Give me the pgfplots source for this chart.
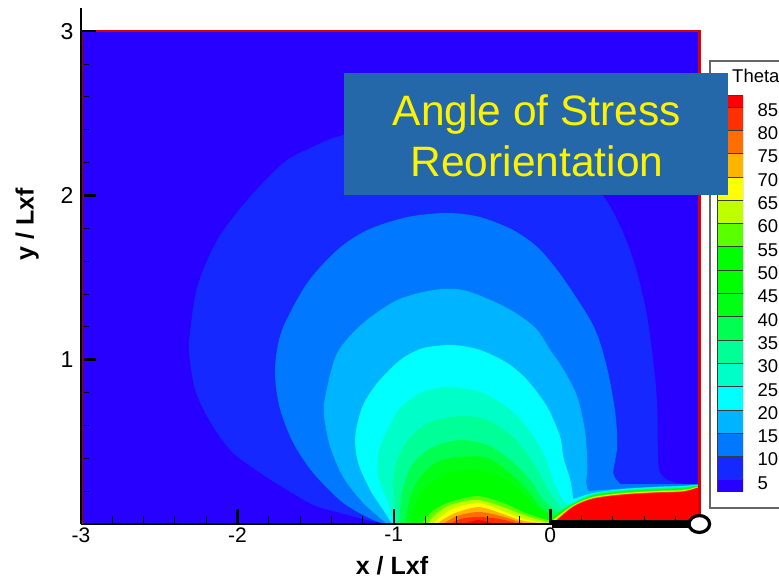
\documentclass[border=0pt]{standalone}
\usepackage{fontspec}
\setmainfont{Liberation Sans}
\usepackage{pgfplots}
\pgfplotsset{compat=1.18}
\definecolor{c05}{HTML}{2800FF}
\definecolor{c10}{HTML}{1428FF}
\definecolor{c15}{HTML}{0078FF}
\definecolor{c20}{HTML}{00B4FF}
\definecolor{c25}{HTML}{00FFFF}
\definecolor{c30}{HTML}{00FFC8}
\definecolor{c35}{HTML}{00FF96}
\definecolor{c40}{HTML}{00FF50}
\definecolor{c45}{HTML}{00FF14}
\definecolor{c50}{HTML}{00FF00}
\definecolor{c60}{HTML}{5AFF00}
\definecolor{c65}{HTML}{BFFF00}
\definecolor{c70}{HTML}{FFFF00}
\definecolor{c75}{HTML}{FFB400}
\definecolor{c80}{HTML}{FF6E00}
\definecolor{c85}{HTML}{FF3000}
\definecolor{c90}{HTML}{FF0000}
\definecolor{boxblue}{HTML}{2468AA}
\definecolor{bandline}{HTML}{3A3A3A}
\begin{document}
\begin{tikzpicture}
\path[use as bounding box] (0,0) rectangle (779pt,580pt);
% filled contour levels, clipped to the domain
\begin{axis}[
  at={(81pt,56pt)}, anchor=south west,
  scale only axis, width=618.3pt, height=515.9pt,
  xmin=-3, xmax=0.953, ymin=0, ymax=3.14,
  hide axis, clip=true,
]
\addplot[fill=c05,draw=none] coordinates {(-3,0)(0.953,0)(0.953,3)(-3,3)} --cycle;
\addplot[fill=c10,draw=none,smooth,tension=0.5] coordinates {(-1.042,0)(-1.170,.024)(-1.343,.067)(-1.515,.116)(-1.682,.207)(-1.854,.310)(-2.027,.432)(-2.129,.554)(-2.206,.676)(-2.270,.816)(-2.302,.980)(-2.308,1.120)(-2.257,1.442)(-2.129,1.728)(-1.937,1.972)(-1.707,2.197)(-1.535,2.288)(-1.324,2.367)(-.831,2.459)(-.320,2.428)(.064,2.276)(.339,1.996)(.467,1.771)(.556,1.528)(.620,1.260)(.665,.937)(.684,.712)(.691,.371)(.723,.286)(.812,.250)(.953,.243)(.953,.243)(.953,0)(.953,0)} --cycle;
\addplot[fill=c15,draw=none,smooth,tension=0.5] coordinates {(-1.042,0)(-1.132,.024)(-1.324,.128)(-1.515,.310)(-1.643,.493)(-1.726,.694)(-1.758,.876)(-1.752,1.029)(-1.707,1.199)(-1.554,1.467)(-1.362,1.668)(-1.170,1.789)(-.914,1.868)(-.659,1.893)(-.448,1.868)(-.237,1.789)(-.083,1.686)(.045,1.546)(.147,1.406)(.256,1.242)(.313,1.120)(.371,.919)(.416,.676)(.428,.469)(.403,.310)(.448,.243)(.448,.243)(.953,.242)(.953,.242)(.953,0)(.953,0)} --cycle;
\addplot[fill=c20,draw=none,smooth,tension=0.5] coordinates {(-1.042,0)(-1.196,.128)(-1.324,.286)(-1.407,.469)(-1.445,.651)(-1.439,.773)(-1.362,1.041)(-1.196,1.223)(-.978,1.363)(-.748,1.424)(-.556,1.424)(-.339,1.345)(-.192,1.266)(-.083,1.181)(0,1.059)(.083,.943)(.173,.773)(.224,.554)(.237,.347)(.230,.250)(.243,.201)(.243,.201)(.467,.216)(.684,.228)(.850,.234)(.953,.241)(.953,.241)(.953,0)(.953,0)} --cycle;
\addplot[fill=c25,draw=none,smooth,tension=0.5] coordinates {(-1.010,0)(-1.068,.085)(-1.151,.207)(-1.228,.371)(-1.247,.529)(-1.202,.712)(-1.106,.858)(-.959,.998)(-.812,1.071)(-.620,1.089)(-.448,1.059)(-.275,.980)(-.147,.876)(-.019,.712)(.064,.529)(.083,.408)(.128,.268)(.147,.152)(.147,.152)(.275,.189)(.467,.213)(.684,.225)(.850,.231)(.953,.240)(.953,.240)(.953,0)(.953,0)} --cycle;
\addplot[fill=c30,draw=none,smooth,tension=0.5] coordinates {(-.985,0)(-1.004,.024)(-1.042,.146)(-1.100,.286)(-1.100,.432)(-1.042,.572)(-.959,.706)(-.831,.797)(-.659,.834)(-.448,.803)(-.275,.712)(-.147,.590)(-.045,.432)(.019,.268)(.064,.176)(.102,.116)(.102,.116)(.147,.131)(.275,.185)(.467,.209)(.684,.222)(.850,.228)(.953,.239)(.953,.239)(.953,0)(.953,0)} --cycle;
\addplot[fill=c35,draw=none,smooth,tension=0.5] coordinates {(-.985,0)(-.991,.085)(-1.004,.250)(-.978,.390)(-.895,.529)(-.767,.621)(-.575,.657)(-.403,.633)(-.237,.529)(-.109,.371)(0,.189)(.070,.091)(.070,.091)(.147,.128)(.275,.181)(.467,.206)(.684,.218)(.850,.224)(.953,.237)(.953,.237)(.953,0)(.953,0)} --cycle;
\addplot[fill=c40,draw=none,smooth,tension=0.5] coordinates {(-.965,0)(-.959,.103)(-.940,.225)(-.876,.371)(-.748,.469)(-.575,.511)(-.403,.481)(-.256,.390)(-.128,.268)(-.045,.146)(.045,.067)(.045,.067)(.147,.125)(.275,.178)(.467,.202)(.684,.214)(.850,.220)(.953,.235)(.953,.235)(.953,0)(.953,0)} --cycle;
\addplot[fill=c45,draw=none,smooth,tension=0.5] coordinates {(-.927,0)(-.895,.164)(-.831,.286)(-.723,.377)(-.575,.408)(-.403,.402)(-.256,.310)(-.147,.207)(-.064,.103)(.026,.049)(.026,.049)(.147,.122)(.275,.174)(.467,.198)(.684,.211)(.850,.217)(.953,.233)(.953,.233)(.953,0)(.953,0)} --cycle;
\addplot[fill=c50,draw=none,smooth,tension=0.5] coordinates {(-.889,0)(-.857,.128)(-.780,.231)(-.671,.304)(-.512,.329)(-.352,.304)(-.224,.231)(-.115,.128)(.013,.037)(.013,.037)(.147,.119)(.275,.170)(.467,.195)(.684,.207)(.850,.213)(.953,.231)(.953,.231)(.953,0)(.953,0)} --cycle;
\addplot[fill=c60,draw=none,smooth,tension=0.5] coordinates {(-.818,0)(-.767,.067)(-.659,.128)(-.467,.170)(-.301,.128)(-.173,.073)(-.064,.037)(.006,.018)(.006,.018)(.147,.116)(.275,.167)(.467,.191)(.684,.203)(.850,.209)(.953,.229)(.953,.229)(.953,0)(.953,0)} --cycle;
\addplot[fill=c65,draw=none,smooth,tension=0.5] coordinates {(-.786,0)(-.735,.055)(-.639,.116)(-.467,.146)(-.301,.103)(-.173,.055)(-.019,.012)(.006,.015)(.006,.015)(.147,.113)(.275,.163)(.467,.187)(.684,.200)(.850,.206)(.953,.228)(.953,.228)(.953,0)(.953,0)} --cycle;
\addplot[fill=c70,draw=none,smooth,tension=0.5] coordinates {(-.748,0)(-.723,.024)(-.627,.091)(-.460,.128)(-.320,.085)(-.192,.037)(-.045,.006)(.006,.012)(.006,.012)(.147,.111)(.275,.161)(.467,.186)(.684,.198)(.850,.204)(.953,.226)(.953,.226)(.953,0)(.953,0)} --cycle;
\addplot[fill=c75,draw=none,smooth,tension=0.5] coordinates {(-.723,0)(-.691,.024)(-.607,.067)(-.460,.103)(-.320,.067)(-.192,.024)(-.064,.006)(.013,.009)(.013,.009)(.147,.110)(.275,.159)(.467,.183)(.684,.195)(.850,.201)(.953,.225)(.953,.225)(.953,0)(.953,0)} --cycle;
\addplot[fill=c80,draw=none,smooth,tension=0.5] coordinates {(-.684,0)(-.595,.049)(-.460,.073)(-.320,.049)(-.173,.006)(-.173,.006)(.019,.006)(.019,.006)(.147,.107)(.275,.156)(.467,.181)(.684,.193)(.850,.199)(.953,.225)(.953,.225)(.953,0)(.953,0)} --cycle;
\addplot[fill=c85,draw=none,smooth,tension=0.5] coordinates {(-.639,0)(-.575,.030)(-.460,.043)(-.320,.030)(-.211,.003)(-.211,.003)(.019,.003)(.019,.003)(.147,.105)(.275,.155)(.467,.179)(.684,.191)(.850,.197)(.953,.223)(.953,.223)(.953,0)(.953,0)} --cycle;
\addplot[fill=c90,draw=none,smooth,tension=0.5] coordinates {(-.556,0)(-.460,.024)(-.364,.003)(-.364,.003)(.019,.001)(.019,.001)(.147,.103)(.275,.152)(.467,.176)(.684,.189)(.850,.195)(.953,.222)(.953,.222)(.953,0)(.953,0)} --cycle;
\end{axis}
% axes, domain boundary, crack and tip
\begin{axis}[
  at={(81pt,56pt)}, anchor=south west,
  scale only axis, width=618.3pt, height=515.9pt,
  xmin=-3, xmax=0.953, ymin=0, ymax=3.14,
  axis lines=left, axis line style={-, line width=2.2pt, black},
  clip=false,
  xtick={-3,-2,-1,0}, xticklabels={-3,-2,-1,0},
  ytick={1,2,3}, yticklabels={1,2,3},
  minor xtick={-2.8,-2.6,-2.4,-2.2,-1.8,-1.6,-1.4,-1.2,-0.8,-0.6,-0.4,-0.2,0.2,0.4,0.6,0.8},
  minor ytick={0.2,0.4,0.6,0.8,1.2,1.4,1.6,1.8,2.2,2.4,2.6,2.8},
  tick align=inside,
  major tick length=15pt, minor tick length=8pt,
  major tick style={line width=2.6pt, black},
  minor tick style={line width=0.9pt, black},
  x tick label style={font=\fontsize{21}{21}\selectfont},
  y tick label style={font=\fontsize{23}{23}\selectfont, xshift=-4pt},
  xlabel={\bfseries x / Lxf}, ylabel={\bfseries y / Lxf},
  label style={font=\fontsize{25}{25}\selectfont},
  x label style={at={(axis description cs:0.503,-0.081)}, anchor=center},
  y label style={at={(axis description cs:-0.087,0.581)}, anchor=center, rotate=0},
]
\addplot[color=black!15!red, line width=2.8pt] coordinates {(-2.905,3)(0.953,3)(0.953,0)};
\addplot[color={rgb:red,5;blue,5;black,2}, line width=2.2pt] coordinates {(-2.985,0)(-2.985,2.98)};
\addplot[black, line width=7.5pt] coordinates {(0.013,0)(0.92,0)};
\addplot[only marks, mark=*, mark size=10.3pt, mark options={fill=white, draw=black, line width=3.2pt, yscale=0.82}] coordinates {(0.953,0)};
\end{axis}
% legend frame
\draw[color=black!60, line width=1.2pt, fill=white] (785pt,519pt) -- (710pt,519pt) -- (710pt,72pt) -- (785pt,72pt);
\begin{axis}[
  at={(717pt,88pt)}, anchor=south west,
  scale only axis, width=26pt, height=397pt,
  xmin=0, xmax=1, ymin=2.4, ymax=87.6,
  axis x line=none, axis y line=right, axis line style={draw=none},
  ytick={5,10,...,85}, major tick length=0pt,
  tick label style={font=\fontsize{18.5}{18.5}\selectfont},
  yticklabels={5,10,15,20,25,30,35,40,45,50,55,60,65,70,75,80,85},
  y tick label style={xshift=11pt, yshift=-3pt, anchor=west},
]
\addplot[fill=c05,draw=bandline,line width=.9pt] coordinates {(0,2.4)(1,2.4)(1,5)(0,5)} --cycle;
\addplot[fill=c10,draw=bandline,line width=.9pt] coordinates {(0,5)(1,5)(1,10)(0,10)} --cycle;
\addplot[fill=c15,draw=bandline,line width=.9pt] coordinates {(0,10)(1,10)(1,15)(0,15)} --cycle;
\addplot[fill=c20,draw=bandline,line width=.9pt] coordinates {(0,15)(1,15)(1,20)(0,20)} --cycle;
\addplot[fill=c25,draw=bandline,line width=.9pt] coordinates {(0,20)(1,20)(1,25)(0,25)} --cycle;
\addplot[fill=c30,draw=bandline,line width=.9pt] coordinates {(0,25)(1,25)(1,30)(0,30)} --cycle;
\addplot[fill=c35,draw=bandline,line width=.9pt] coordinates {(0,30)(1,30)(1,35)(0,35)} --cycle;
\addplot[fill=c40,draw=bandline,line width=.9pt] coordinates {(0,35)(1,35)(1,40)(0,40)} --cycle;
\addplot[fill=c45,draw=bandline,line width=.9pt] coordinates {(0,40)(1,40)(1,45)(0,45)} --cycle;
\addplot[fill=c50,draw=bandline,line width=.9pt] coordinates {(0,45)(1,45)(1,50)(0,50)} --cycle;
\addplot[fill=c50,draw=bandline,line width=.9pt] coordinates {(0,50)(1,50)(1,55)(0,55)} --cycle;
\addplot[fill=c60,draw=bandline,line width=.9pt] coordinates {(0,55)(1,55)(1,60)(0,60)} --cycle;
\addplot[fill=c65,draw=bandline,line width=.9pt] coordinates {(0,60)(1,60)(1,65)(0,65)} --cycle;
\addplot[fill=c70,draw=bandline,line width=.9pt] coordinates {(0,65)(1,65)(1,70)(0,70)} --cycle;
\addplot[fill=c75,draw=bandline,line width=.9pt] coordinates {(0,70)(1,70)(1,75)(0,75)} --cycle;
\addplot[fill=c80,draw=bandline,line width=.9pt] coordinates {(0,75)(1,75)(1,80)(0,80)} --cycle;
\addplot[fill=c85,draw=bandline,line width=.9pt] coordinates {(0,80)(1,80)(1,85)(0,85)} --cycle;
\addplot[fill=c90,draw=bandline,line width=.9pt] coordinates {(0,85)(1,85)(1,87.6)(0,87.6)} --cycle;
\end{axis}
\node[anchor=west, inner sep=0pt, font=\fontsize{18.5}{18.5}\selectfont] at (732pt,504pt) {Theta};
\node[fill=boxblue, minimum width=384pt, minimum height=122pt, inner sep=0pt] at (536pt,446pt) {};
\node[text=yellow, inner sep=0pt, align=center, font=\fontsize{42.5}{51}\selectfont] at (537pt,444pt) {Angle of Stress\\Reorientation};
\end{tikzpicture}
\end{document}
